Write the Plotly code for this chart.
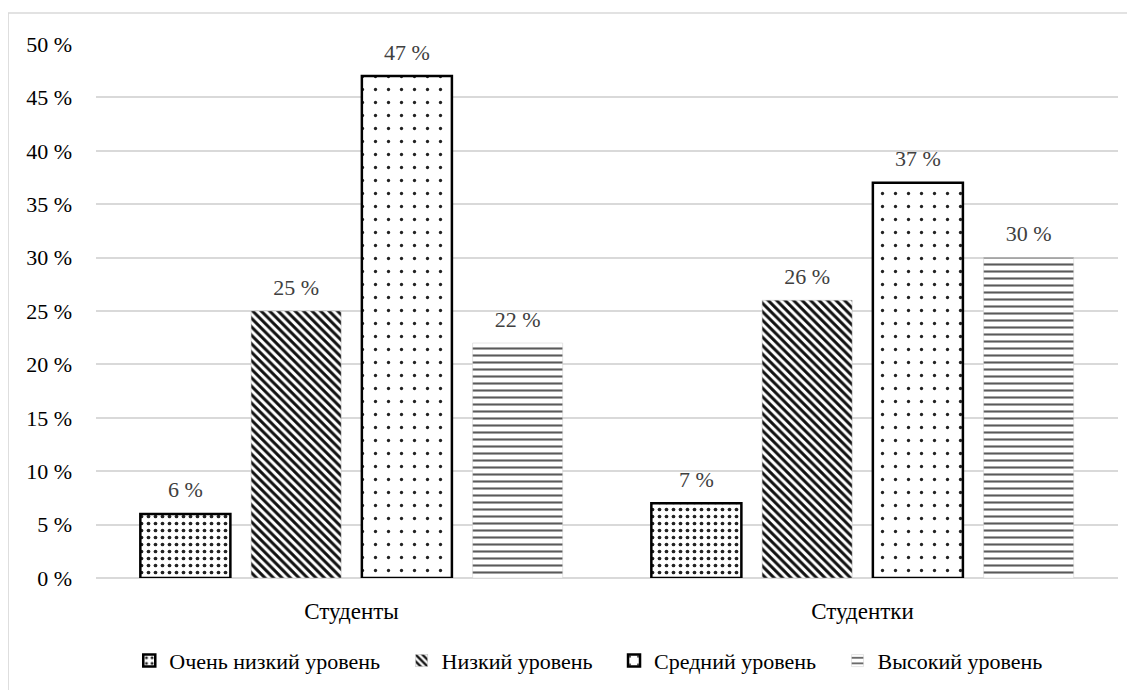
import plotly.graph_objects as go

categories = ["Студенты", "Студентки"]
series_names = ["Очень низкий уровень", "Низкий уровень", "Средний уровень", "Высокий уровень"]
values_very_low = [6, 7]
values_low = [25, 26]
values_mid = [47, 37]
values_high = [22, 30]
y_ticks = [0, 5, 10, 15, 20, 25, 30, 35, 40, 45, 50]
y_tick_labels = [f"{t} %" for t in y_ticks]

FONT = "Times New Roman, Liberation Serif, DejaVu Serif, serif"
FS_TICK = 22
FS_LABEL = 22
FS_CAT = 23
FS_LEG = 22

styles = [
    dict(shape=".", size=7, solidity=0.22, fg="#222222", line_w=2.5, line_c="#000000"),
    dict(shape="\\", size=6, solidity=0.5, fg="#111111", line_w=0.5, line_c="#bbbbbb"),
    dict(shape=".", size=13, solidity=0.05, fg="#222222", line_w=2.5, line_c="#000000"),
    dict(shape="-", size=7, solidity=0.3, fg="#5a5a5a", line_w=0.5, line_c="#cccccc"),
]
all_values = [values_very_low, values_low, values_mid, values_high]

BARGAP = 0.133

fig = go.Figure()
for name, vals, st in zip(series_names, all_values, styles):
    fig.add_trace(go.Bar(
        name=name + "\u00a0\u00a0\u00a0",
        x=categories,
        y=vals,
        marker=dict(
            color="white",
            line=dict(width=st["line_w"], color=st["line_c"]),
            pattern=dict(shape=st["shape"], size=st["size"], solidity=st["solidity"],
                         fgcolor=st["fg"], fgopacity=1, bgcolor="white", fillmode="overlay"),
        ),
    ))

# value labels (grouped scatter text, aligned with the bar slots)
for name, vals in zip(series_names, all_values):
    fig.add_trace(go.Scatter(
        x=categories,
        y=vals,
        mode="markers+text",
        text=[f"{v} %" for v in vals],
        textposition="top center",
        textfont=dict(family=FONT, size=FS_LABEL, color="#404040"),
        marker=dict(size=16, color="rgba(0,0,0,0)"),
        showlegend=False,
        hoverinfo="skip",
        cliponaxis=False,
    ))

fig.update_layout(
    width=1135, height=690,
    margin=dict(l=88, r=25, t=36, b=120, autoexpand=False),
    paper_bgcolor="white", plot_bgcolor="white",
    barmode="group", bargap=BARGAP, bargroupgap=0.187,
    scattermode="group", scattergap=BARGAP,
    font=dict(family=FONT, size=FS_TICK, color="#000000"),
    showlegend=True,
    legend=dict(orientation="h", x=0.49, xanchor="center", y=-0.155, yanchor="middle",
                font=dict(family=FONT, size=FS_LEG, color="#000000"),
                itemwidth=30, tracegroupgap=0),
    xaxis=dict(showgrid=False, showline=False, zeroline=False, ticks="",
               tickfont=dict(family=FONT, size=FS_CAT, color="#000000"),
               ticklabelstandoff=17),
    yaxis=dict(range=[0, 50], tickvals=y_ticks, ticktext=y_tick_labels,
               showgrid=True, gridcolor="#d9d9d9", gridwidth=1.5,
               zeroline=True, zerolinecolor="#d9d9d9", zerolinewidth=1.5,
               showline=False, ticks="",
               tickfont=dict(family=FONT, size=FS_TICK, color="#000000"),
               ticklabelstandoff=23),
    shapes=[dict(type="rect", xref="paper", yref="paper",
                 x0=-0.086, x1=1.2, y0=-0.4, y1=1.058,
                 line=dict(color="#d9d9d9", width=1.5), fillcolor="rgba(0,0,0,0)", layer="below")],
)

fig.write_html("out.html")
